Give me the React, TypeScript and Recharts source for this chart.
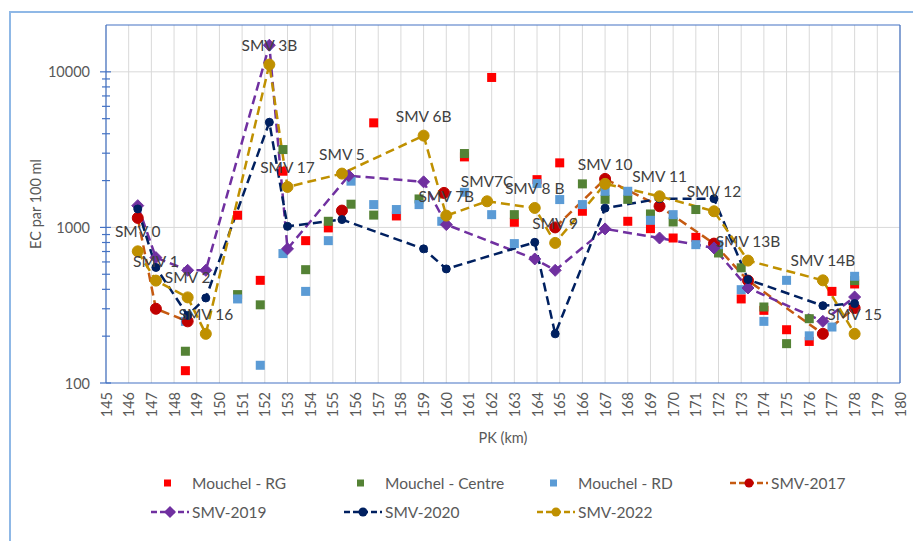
import React from 'react';
import {
  ComposedChart,
  Line,
  Scatter,
  XAxis,
  YAxis,
  CartesianGrid,
  ReferenceLine,
  LabelList,
  Label,
} from 'recharts';

const FONT = "Lato, 'Noto Sans', sans-serif";

// ---- tick labels ----
const xTicks = [145, 146, 147, 148, 149, 150, 151, 152, 153, 154, 155, 156, 157, 158, 159, 160, 161, 162, 163, 164, 165, 166, 167, 168, 169, 170, 171, 172, 173, 174, 175, 176, 177, 178, 179, 180];
const yTicks = [100, 200, 300, 400, 500, 600, 700, 800, 900, 1000, 2000, 3000, 4000, 5000, 6000, 7000, 8000, 9000, 10000];
const yMajor = [100, 1000, 10000];
const yGrid = [1000, 10000];

// ---- Mouchel - RG ----
const rgPK = [148.5, 150.8, 151.8, 152.8, 153.8, 154.8, 156.8, 157.8, 160.8, 162.0, 163, 164, 165, 166, 168, 169, 170, 171, 173, 174, 175, 176, 177, 178];
const rgEC = [120, 1197, 457, 2297, 822, 993, 4700, 1185, 2840, 9200, 1079, 2028, 2600, 1270, 1095, 982, 855, 863, 347, 293, 220, 185, 388, 433];

// ---- Mouchel - Centre ----
const ctPK = [148.5, 150.8, 151.8, 152.8, 153.8, 154.8, 155.8, 156.8, 158.8, 160.8, 163, 166, 167, 168, 169, 170, 171, 172, 173, 174, 175, 176, 178];
const ctEC = [160, 370, 318, 3165, 535, 1095, 1410, 1200, 1524, 2985, 1208, 1905, 1515, 1515, 1220, 1084, 1303, 685, 550, 308, 179, 259, 455];

// ---- Mouchel - RD ----
const rdPK = [148.5, 150.8, 151.8, 152.8, 153.8, 154.8, 155.8, 156.8, 157.8, 158.8, 159.8, 160.8, 162.0, 163, 164, 165, 166, 167, 168, 169, 170, 171, 172, 173, 174, 175, 176, 177, 178];
const rdEC = [249, 347, 130, 679, 388, 822, 1983, 1402, 1303, 1402, 1095, 1682, 1208, 787, 1914, 1510, 1402, 1707, 1707, 1111, 1208, 775, 775, 398, 249, 457, 201, 229, 485];

// ---- SMV-2017 ----
const s17PK = [146.4, 147.2, 148.6, 152.2, 155.4, 157.0, 159.9, 162.0, 164.8, 167.0, 169.4, 171.8, 173.3, 176.6, 178.0];
const s17EC = [1151, 300, 249, null, 1283, null, 1667, null, 1000, 2050, 1368, 787, 455, 207, 303];

// ---- SMV-2019 ----
const s19PK = [146.4, 147.2, 148.6, 149.4, 152.2, 153.0, 155.7, 159.0, 160.0, 163.9, 164.8, 167.0, 169.4, 171.8, 173.3, 176.6, 178.0];
const s19EC = [1380, 640, 530, 530, 14830, 728, 2150, 1963, 1043, 627, 530, 978, 855, 738, 408, 249, 357];

// ---- SMV-2020 ----
const s20PK = [146.4, 147.2, 148.6, 149.4, 152.2, 153.0, 155.4, 159.0, 160.0, 163.9, 164.8, 167.0, 169.4, 171.8, 173.3, 176.6, 178.0];
const s20EC = [1315, 553, 272, 352, 4740, 1016, 1123, 728, 541, 802, 207, 1330, 1530, 1530, 462, 314, 324];

// ---- SMV-2022 (with station labels) ----
const s22PK = [146.4, 147.2, 148.6, 149.4, 152.2, 153.0, 155.4, 159.0, 160.0, 161.8, 163.9, 164.8, 167.0, 169.4, 171.8, 173.3, 176.6, 178.0];
const s22EC = [702, 455, 355, 207, 11140, 1820, 2218, 3890, 1191, 1472, 1334, 795, 1905, 1585, 1270, 612, 457, 207];
const s22Labels = ['SMV 0', 'SMV 1', 'SMV 2', 'SMV 16', 'SMV 3B', 'SMV 17', 'SMV 5', 'SMV 6B', 'SMV 7B', 'SMV7C', 'SMV 8 B', 'SMV 9', 'SMV 10', 'SMV 11', 'SMV 12', 'SMV 13B', 'SMV 14B', 'SMV 15'];

const zip = (pk: number[], ec: (number | null)[], labels?: string[]) =>
  pk.map((x, i) => ({ x, y: ec[i], label: labels ? labels[i] : undefined }));

const rgData = zip(rgPK, rgEC);
const ctData = zip(ctPK, ctEC);
const rdData = zip(rdPK, rdEC);
const d17 = zip(s17PK, s17EC);
const d19 = zip(s19PK, s19EC);
const d20 = zip(s20PK, s20EC);
const d22 = zip(s22PK, s22EC, s22Labels);

const C_RG = '#FF0000';
const C_CT = '#548235';
const C_RD = '#5B9BD5';
const C_17 = '#C55A11';
const C_17M = '#C00000';
const C_19 = '#7030A0';
const C_20 = '#002060';
const C_22 = '#BF9000';
const AXIS = '#4472C4';
const TXT = '#595959';

const squareShape = (color: string) => (props: any) => {
  const { cx, cy } = props;
  if (cx == null || cy == null) return <g />;
  return <rect x={cx - 4.5} y={cy - 4.5} width={9} height={9} fill={color} />;
};

const circleDot = (color: string, r: number) => (props: any) => {
  const { cx, cy, index } = props;
  if (cx == null || cy == null || props.value == null) return <g key={`d${index}`} />;
  return <circle key={`d${index}`} cx={cx} cy={cy} r={r} fill={color} stroke={color} strokeWidth={1} />;
};

const diamondDot = (props: any) => {
  const { cx, cy, index } = props;
  if (cx == null || cy == null || props.value == null) return <g key={`d${index}`} />;
  const s = 6;
  return (
    <polygon
      key={`d${index}`}
      points={`${cx},${cy - s} ${cx + s},${cy} ${cx},${cy + s} ${cx - s},${cy}`}
      fill={C_19}
      stroke={C_19}
    />
  );
};

const XTick = (props: any) => {
  const { x, y, payload } = props;
  return (
    <text
      x={x}
      y={y}
      transform={`rotate(-90 ${x} ${y})`}
      textAnchor="end"
      dominantBaseline="central"
      fill={TXT}
      fontSize={14.5}
      fontFamily={FONT}
    >
      {payload.value}
    </text>
  );
};

const YTick = (props: any) => {
  const { x, y, payload } = props;
  const major = yMajor.includes(payload.value);
  return (
    <g>
      <line x1={major ? x - 6 : x - 4} x2={major ? x + 5 : x + 4} y1={y} y2={y} stroke={AXIS} strokeWidth={1.2} />
      {major && (
        <text x={x - 16} y={y} textAnchor="end" dominantBaseline="central" fill={TXT} fontSize={14.5} fontFamily={FONT}>
          {payload.value}
        </text>
      )}
    </g>
  );
};

type LegendItem = { name: string; kind: 'square' | 'line'; color: string; marker?: string; shape?: 'circle' | 'diamond'; row: number; col: number };
const legendItems: LegendItem[] = [
  { name: 'Mouchel - RG', kind: 'square', color: C_RG, row: 0, col: 0 },
  { name: 'Mouchel - Centre', kind: 'square', color: C_CT, row: 0, col: 1 },
  { name: 'Mouchel - RD', kind: 'square', color: C_RD, row: 0, col: 2 },
  { name: 'SMV-2017', kind: 'line', color: C_17, marker: C_17M, shape: 'circle', row: 0, col: 3 },
  { name: 'SMV-2019', kind: 'line', color: C_19, marker: C_19, shape: 'diamond', row: 1, col: 0 },
  { name: 'SMV-2020', kind: 'line', color: C_20, marker: C_20, shape: 'circle', row: 1, col: 1 },
  { name: 'SMV-2022', kind: 'line', color: C_22, marker: C_22, shape: 'circle', row: 1, col: 2 },
];

const LegendIcon = ({ item }: { item: LegendItem }) => {
  if (item.kind === 'square') {
    return (
      <svg width={40} height={14} style={{ display: 'block' }}>
        <rect x={14} y={3.5} width={7} height={7} fill={item.color} />
      </svg>
    );
  }
  return (
    <svg width={40} height={14} style={{ display: 'block' }}>
      <line x1={1} x2={39} y1={7} y2={7} stroke={item.color} strokeWidth={2.5} strokeDasharray="6 3" />
      {item.shape === 'diamond' ? (
        <polygon points="20,1 26,7 20,13 14,7" fill={item.marker} />
      ) : (
        <circle cx={20} cy={7} r={4.5} fill={item.marker} />
      )}
    </svg>
  );
};

export default function App() {
  return (
    <div style={{ position: 'fixed', left: 0, top: 0, width: 913, height: 541, overflow: 'hidden', background: '#fff', fontFamily: FONT }}>
      <div
        style={{
          position: 'absolute',
          left: 9,
          top: 11,
          width: 1000,
          height: 1000,
          borderLeft: '2px solid #8FB8E6',
          borderTop: '2px solid #8FB8E6',
        }}
      />
      <div style={{ position: 'absolute', left: 0, top: 0 }}>
        <ComposedChart width={913} height={541} margin={{ top: 25, right: 13, bottom: 98, left: 0 }}>
          <CartesianGrid horizontal={false} stroke="#D9D9D9" strokeWidth={1} />
          <XAxis
            dataKey="x"
            type="number"
            domain={[145, 180]}
            ticks={xTicks}
            interval={0}
            allowDataOverflow
            height={60}
            tickSize={0}
            tickMargin={9}
            tick={<XTick />}
            axisLine={{ stroke: AXIS, strokeWidth: 1.2 }}
          >
            <Label
              content={(p: any) => {
                const vb = p.viewBox || { x: 106, y: 383, width: 794 };
                return (
                  <text x={vb.x + vb.width / 2} y={vb.y + 54} textAnchor="middle" dominantBaseline="central" fill={TXT} fontSize={14.5} fontFamily={FONT}>
                    PK (km)
                  </text>
                );
              }}
            />
          </XAxis>
          <YAxis
            dataKey="y"
            type="number"
            scale="log"
            domain={[100, 20000]}
            allowDataOverflow
            ticks={yTicks}
            interval={0}
            width={106}
            tickSize={0}
            tickMargin={0}
            tickLine={false}
            tick={<YTick />}
            axisLine={{ stroke: AXIS, strokeWidth: 1.2 }}
          >
            <Label
              content={(p: any) => {
                const vb = p.viewBox || { x: 0, y: 25, width: 106, height: 358 };
                const cx = vb.x + 35;
                const cy = vb.y + vb.height / 2;
                return (
                  <text x={cx} y={cy} transform={`rotate(-90 ${cx} ${cy})`} textAnchor="middle" dominantBaseline="central" fill={TXT} fontSize={14.5} fontFamily={FONT}>
                    EC par 100 ml
                  </text>
                );
              }}
            />
          </YAxis>
          {yGrid.map((v) => (
            <ReferenceLine key={v} y={v} stroke="#D9D9D9" strokeWidth={1} />
          ))}
          <ReferenceLine y={20000} stroke={AXIS} strokeWidth={1.2} />
          <ReferenceLine x={180} stroke={AXIS} strokeWidth={1.2} />

          <Scatter name="Mouchel - RG" data={rgData} dataKey="y" fill={C_RG} shape={squareShape(C_RG)} isAnimationActive={false} />
          <Scatter name="Mouchel - Centre" data={ctData} dataKey="y" fill={C_CT} shape={squareShape(C_CT)} isAnimationActive={false} />
          <Scatter name="Mouchel - RD" data={rdData} dataKey="y" fill={C_RD} shape={squareShape(C_RD)} isAnimationActive={false} />

          <Line name="SMV-2017" data={d17} dataKey="y" stroke={C_17} strokeWidth={2.5} strokeDasharray="9 5" dot={circleDot(C_17M, 5.5)} activeDot={false} connectNulls={false} isAnimationActive={false} />
          <Line name="SMV-2019" data={d19} dataKey="y" stroke={C_19} strokeWidth={2.5} strokeDasharray="9 5" dot={diamondDot} activeDot={false} isAnimationActive={false} />
          <Line name="SMV-2020" data={d20} dataKey="y" stroke={C_20} strokeWidth={2.5} strokeDasharray="9 5" dot={circleDot(C_20, 4)} activeDot={false} isAnimationActive={false} />
          <Line name="SMV-2022" data={d22} dataKey="y" stroke={C_22} strokeWidth={2.5} strokeDasharray="9 5" dot={circleDot(C_22, 5.5)} activeDot={false} isAnimationActive={false}>
            <LabelList dataKey="label" position="top" offset={14} fill="#404040" fontSize={15.5} fontFamily={FONT} />
          </Line>
        </ComposedChart>
      </div>
      {legendItems.map((it) => {
        const textX = 192 + it.col * 193;
        const cy = it.row === 0 ? 483 : 512;
        return (
          <div key={it.name} style={{ position: 'absolute', left: textX - 42, top: cy - 9, height: 18, display: 'flex', alignItems: 'center' }}>
            <LegendIcon item={it} />
            <span style={{ marginLeft: 2, fontSize: 15.5, color: TXT, fontFamily: FONT, whiteSpace: 'nowrap' }}>{it.name}</span>
          </div>
        );
      })}
    </div>
  );
}
